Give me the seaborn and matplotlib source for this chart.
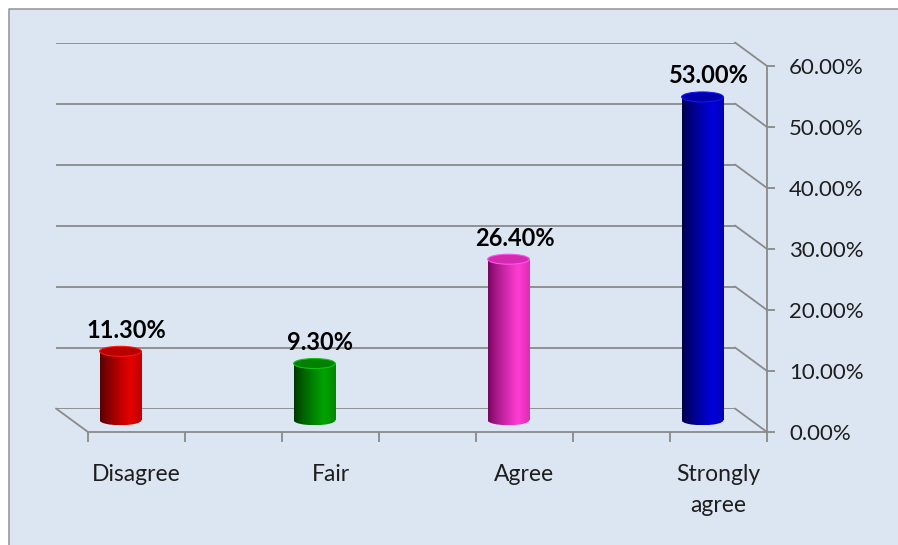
import numpy as np
import pandas as pd
import matplotlib
matplotlib.use("Agg")
import matplotlib.pyplot as plt
import seaborn as sns
from matplotlib.patches import Rectangle, Ellipse, ConnectionPatch
from matplotlib.lines import Line2D
from matplotlib.colors import to_rgb

# ──────────────────────────────────────────────
# Data
# ──────────────────────────────────────────────
categories = ["Disagree", "Fair", "Agree", "Strongly agree"]
tick_labels = ["Disagree", "Fair", "Agree", "Strongly\nagree"]
values = [11.30, 9.30, 26.40, 53.00]
dark_colors = ["#4a0000", "#003000", "#6e0058", "#00003c"]
bright_colors = ["#e60000", "#00a400", "#ff3cd4", "#0000dc"]
y_ticks = [0, 10, 20, 30, 40, 50, 60]

# every category sits in a slot with an empty slot in between (Excel 3D look)
slot_order = ["Disagree", " ", "Fair", "  ", "Agree", "   ", "Strongly agree"]

BG = "#dce6f2"
GRID = "#8a8a8a"
TXT = "#1e1e1e"
W, H = 898, 545

sns.set_style("white")
plt.rcParams["font.family"] = ["Lato", "DejaVu Sans"]

fig = plt.figure(figsize=(W / 100, H / 100), dpi=100, facecolor="white")

# light blue chart area, grey border only on the visible left / top sides
fig.add_artist(Rectangle((9 / W, 0), 1.0, 1 - 9 / H,
                         transform=fig.transFigure, facecolor=BG,
                         edgecolor="none", zorder=-10))
fig.add_artist(Line2D([9 / W, 9 / W, 1.0], [0, 1 - 9 / H, 1 - 9 / H],
                      transform=fig.transFigure, color="#9a9a9a", lw=1.2,
                      zorder=-9))


def px_box(left, top, right, bottom):
    return [left / W, 1 - bottom / H, (right - left) / W, (bottom - top) / H]


# front plane (axis + floor edge), back plane (gridlines), mid plane (bars)
DX, DY = 32, 23.5
front = (88, 66, 767, 432)
back = (front[0] - DX, front[1] - DY, front[2] - DX, front[3] - DY)
px_per_unit = (front[3] - front[1]) / 60
ymin_mid = -3
mid = (front[0] - DX / 2, front[1] - DY / 2, front[2] - DX / 2,
       front[3] - DY / 2 - ymin_mid * px_per_unit)

ax_back = fig.add_axes(px_box(*back))
ax_front = fig.add_axes(px_box(*front))
ax_mid = fig.add_axes(px_box(*mid))

for a in (ax_back, ax_front, ax_mid):
    a.set_xlim(-0.5, 6.5)
    a.patch.set_alpha(0)
ax_back.set_ylim(0, 60)
ax_front.set_ylim(0, 60)
ax_mid.set_ylim(ymin_mid, 60)

# back wall gridlines
ax_back.axis("off")
for v in y_ticks:
    ax_back.axhline(v, color=GRID, lw=1.3)
    fig.add_artist(ConnectionPatch(xyA=(6.5, v), coordsA=ax_back.transData,
                                   xyB=(6.5, v), coordsB=ax_front.transData,
                                   color=GRID, lw=1.3))
fig.add_artist(ConnectionPatch(xyA=(-0.5, 0), coordsA=ax_back.transData,
                               xyB=(-0.5, 0), coordsB=ax_front.transData,
                               color=GRID, lw=1.3))

# front axis: right value axis + floor edge with category ticks
for side in ("left", "top"):
    ax_front.spines[side].set_visible(False)
for side in ("right", "bottom"):
    ax_front.spines[side].set_color(GRID)
    ax_front.spines[side].set_linewidth(1.3)
ax_front.yaxis.tick_right()
ax_front.set_yticks(y_ticks)
ax_front.set_yticklabels([f"{v:.2f}%" for v in y_ticks])
ax_front.set_xticks(np.arange(-0.5, 7, 1))
ax_front.set_xticklabels([])
ax_front.set_xticks(range(0, 7, 2), minor=True)
ax_front.set_xticklabels(tick_labels, minor=True, linespacing=1.6)
ax_front.tick_params(axis="y", which="major", direction="out", length=6,
                     width=1.3, color=GRID, pad=10, labelsize=16,
                     labelcolor=TXT, right=True)
ax_front.tick_params(axis="x", which="major", direction="out", length=7,
                     width=1.3, color=GRID, bottom=True)
ax_front.tick_params(axis="x", which="minor", length=0, pad=23,
                     labelsize=16.5, labelcolor=TXT, bottom=True)
ax_front.grid(False)

# cylinders
df = pd.DataFrame({"category": categories, "value": values})
palette = {c: col for c, col in zip(categories, bright_colors)}
sns.barplot(data=df, x="category", y="value", order=slot_order,
            hue="category", hue_order=categories, palette=palette,
            width=0.43, saturation=1, legend=False, ax=ax_mid)
ax_mid.axis("off")

ell_h = 10 / px_per_unit
t = np.linspace(0, 1, 200)
shade = np.where(t < 0.72, 0.05 + 0.95 * (t / 0.72) ** 0.8,
                 1 - 0.25 * (t - 0.72) / 0.28)

for p in list(ax_mid.patches):
    h = p.get_height()
    if h <= 0:
        continue
    x0, w = p.get_x(), p.get_width()
    xc = x0 + w / 2
    i = int(round(xc)) // 2
    dark = np.array(to_rgb(dark_colors[i]))
    bright = np.array(to_rgb(bright_colors[i]))
    grad = (dark[None, :] + (bright - dark)[None, :] * shade[:, None])[None, :, :]
    p.set_facecolor("none")
    p.set_edgecolor("none")

    body = ax_mid.imshow(grad, extent=(x0, x0 + w, 0, h), aspect="auto",
                         interpolation="bilinear", zorder=2)
    body.set_clip_path(p)

    bottom = Ellipse((xc, 0), w, ell_h, facecolor="none", edgecolor="none")
    ax_mid.add_patch(bottom)
    base = ax_mid.imshow(grad, extent=(x0, x0 + w, -ell_h / 2, 0),
                         aspect="auto", interpolation="bilinear", zorder=2)
    base.set_clip_path(bottom)

    cap_col = 0.7 * bright + 0.3 * dark
    ax_mid.add_patch(Ellipse((xc, h), w, ell_h, facecolor=cap_col,
                             edgecolor=np.clip(bright * 1.05 + 0.08, 0, 1),
                             lw=0.8, zorder=3))

    ax_mid.annotate(f"{values[i]:.2f}%", xy=(xc, h), xytext=(6, 21),
                    textcoords="offset pixels", ha="center", va="center",
                    fontsize=17, fontweight="bold", color="black", zorder=4)

ax_mid.set_xlim(-0.5, 6.5)
ax_mid.set_ylim(ymin_mid, 60)

fig.savefig("out.png", dpi=100, facecolor="white")
